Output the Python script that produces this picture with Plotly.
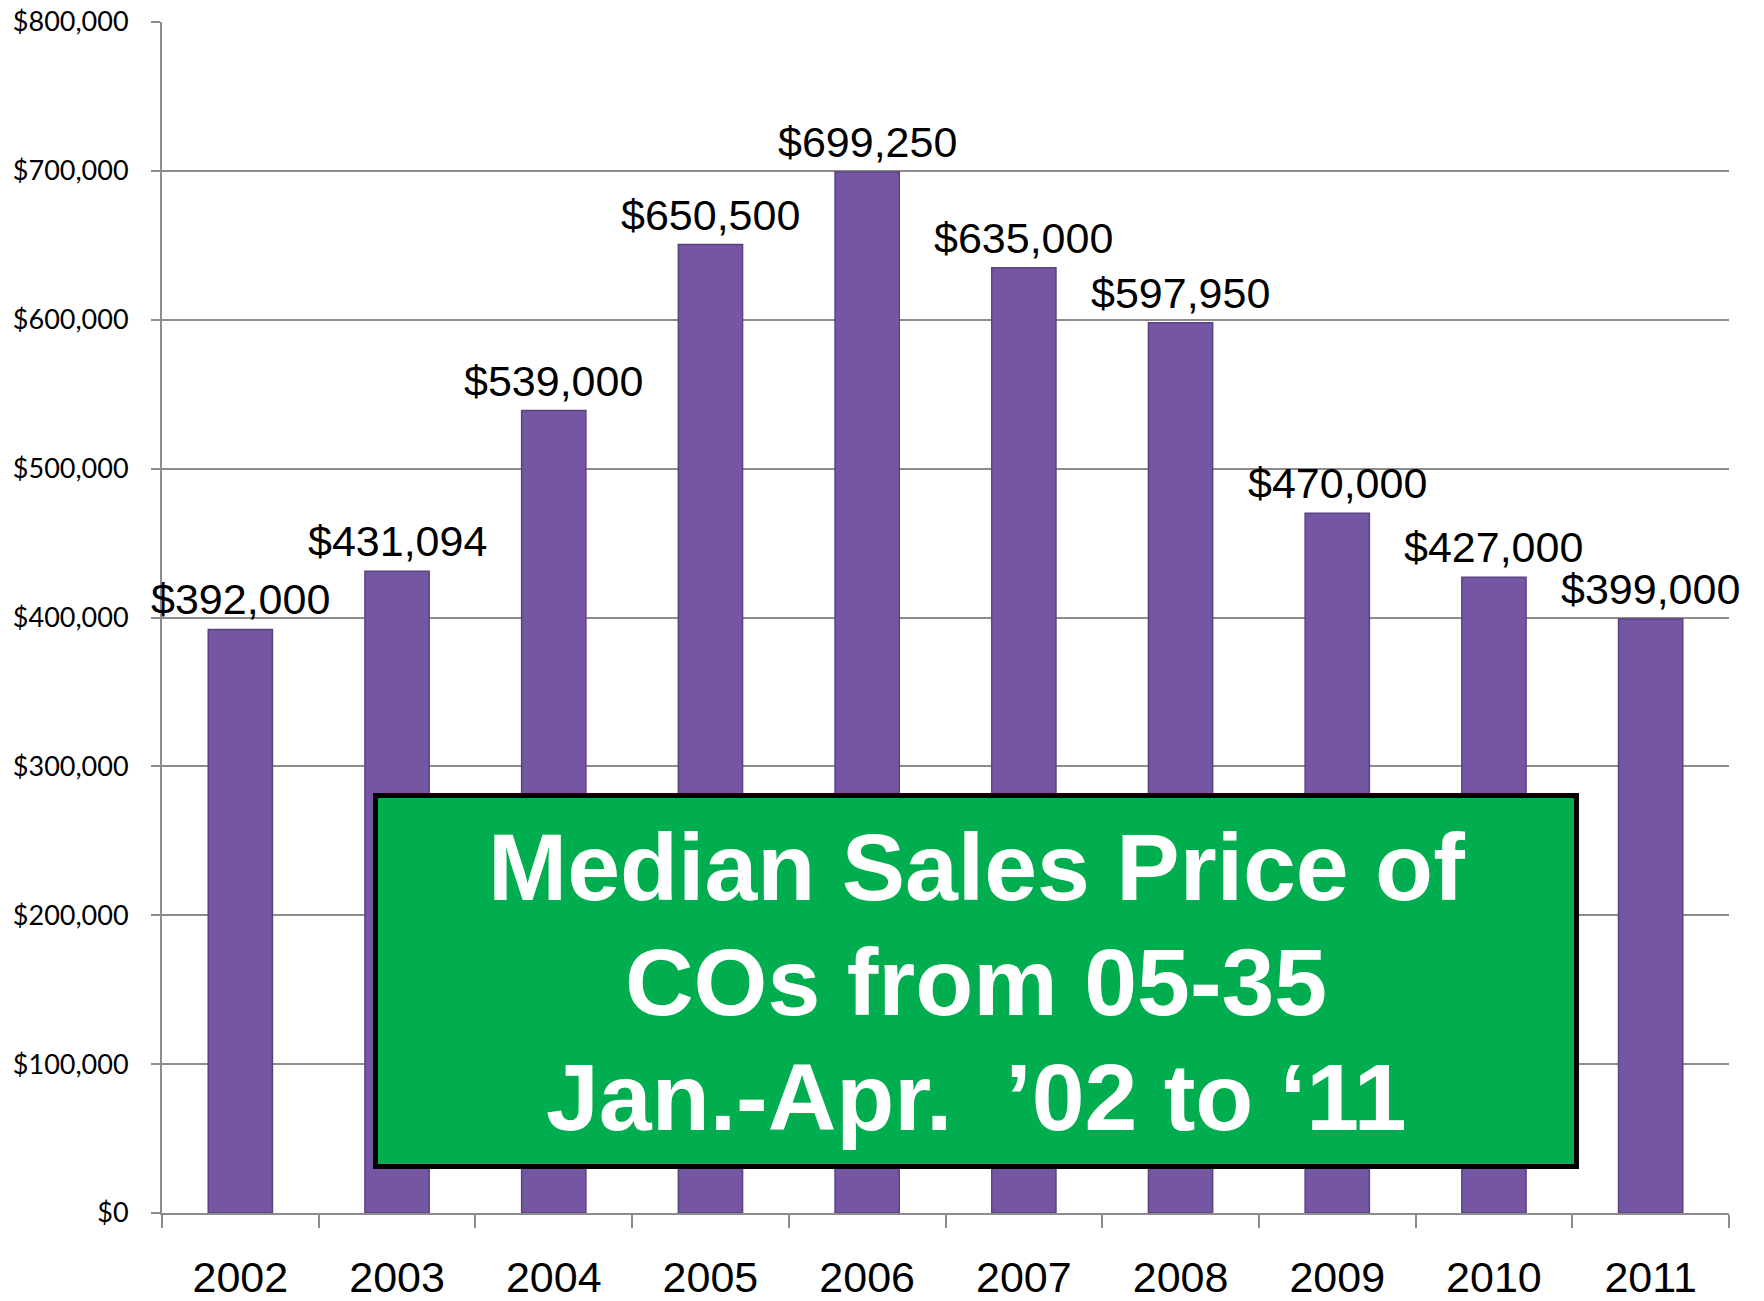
import plotly.graph_objects as go

years = ["2002", "2003", "2004", "2005", "2006", "2007", "2008", "2009", "2010", "2011"]
prices = [392000, 431094, 539000, 650500, 699250, 635000, 597950, 470000, 427000, 399000]
price_labels = ["$392,000", "$431,094", "$539,000", "$650,500", "$699,250",
                "$635,000", "$597,950", "$470,000", "$427,000", "$399,000"]
y_ticks = [0, 100000, 200000, 300000, 400000, 500000, 600000, 700000, 800000]
y_tick_labels = ["$0", "$100,000", "$200,000", "$300,000", "$400,000",
                 "$500,000", "$600,000", "$700,000", "$800,000"]
title_lines = ["Median Sales Price of", "COs from 05-35", "Jan.-Apr.\u00a0 \u201902 to \u201811"]

OFF = 8  # default page body margin
W, H = 1764 - OFF, 1301 - OFF
# plot area in window pixels: left 162, right 1729, top 22, bottom 1213
L, T = 162 - OFF, 22 - OFF
R = W - (1729 - OFF)
B = H - (1213 - OFF)
PW, PH = W - L - R, H - T - B

def px(x):
    return (x - OFF - L) / PW

def py(y):
    return (H - B - (y - OFF)) / PH

fig = go.Figure()
fig.add_trace(go.Bar(
    x=years, y=prices, width=0.41,
    marker=dict(color="#7456a2", line=dict(color="#5b4283", width=1.5)),
    hoverinfo="x+y",
))

annotations = []
for i, (v, lab) in enumerate(zip(prices, price_labels)):
    annotations.append(dict(
        x=i, y=v, xref="x", yref="y", text=lab, showarrow=False,
        yanchor="bottom", xanchor="center", yshift=4,
        font=dict(family="Liberation Sans, Arial", size=43, color="#000000"),
    ))

line_centers = [867, 982, 1097]
for t, yc in zip(title_lines, line_centers):
    annotations.append(dict(
        x=px(976), y=py(yc), xref="paper", yref="paper", text=t, showarrow=False,
        xanchor="center", yanchor="middle",
        font=dict(family="Liberation Sans, Arial", size=95, color="#ffffff", weight="bold"),
    ))

shapes = [
    dict(type="rect", xref="paper", yref="paper",
         x0=px(375.5), x1=px(1576.5), y0=py(1166.5), y1=py(795.5),
         fillcolor="#00ae50", line=dict(color="#000000", width=5), layer="above"),
    dict(type="line", xref="paper", yref="paper",
         x0=px(1762), x1=px(1762), y0=py(1301), y1=py(0),
         line=dict(color="#9a9a9a", width=2)),
]

fig.update_layout(
    width=W, height=H,
    margin=dict(l=L, r=R, t=T, b=B, pad=0, autoexpand=False),
    paper_bgcolor="#ffffff", plot_bgcolor="#ffffff",
    showlegend=False,
    annotations=annotations, shapes=shapes,
    xaxis=dict(
        type="category", categoryorder="array", categoryarray=years,
        range=[-0.5, len(years) - 0.5], automargin=False,
        showgrid=False, showline=True, linecolor="#8c8c8c", linewidth=2,
        ticks="outside", tickson="boundaries", ticklen=13, tickwidth=2, tickcolor="#8c8c8c",
        tickfont=dict(family="Liberation Sans, Arial", size=43, color="#000000"),
        tickangle=0, ticklabelstandoff=25, ticklabeloverflow="allow",
    ),
    yaxis=dict(
        range=[0, 800000], tickvals=y_ticks, ticktext=y_tick_labels, automargin=False,
        showgrid=True, gridcolor="#8c8c8c", gridwidth=2,
        showline=True, linecolor="#8c8c8c", linewidth=2,
        ticks="outside", ticklen=9, tickwidth=2, tickcolor="#8c8c8c",
        tickfont=dict(family="Lato, Open Sans", size=27, color="#000000"),
        ticklabelstandoff=17, ticklabeloverflow="allow", zeroline=False,
    ),
)

fig.write_html("out.html")
